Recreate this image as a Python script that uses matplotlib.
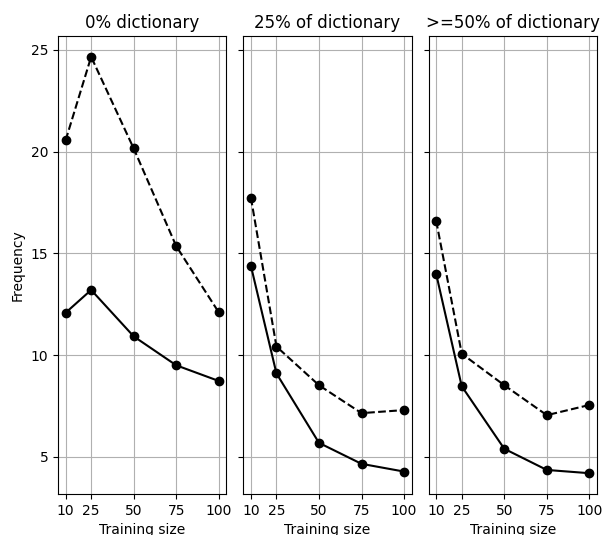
import matplotlib
matplotlib.use("Agg")
import matplotlib.pyplot as plt

train_sizes = [10, 25, 50, 75, 100]
titles = ["0% dictionary", "25% of dictionary", ">=50% of dictionary"]

# dashed series (upper) and solid series (lower), one list per panel
dashed = [
    [20.55, 24.65, 20.15, 15.35, 12.1],
    [17.73, 10.42, 8.52, 7.15, 7.3],
    [16.59, 10.07, 8.52, 7.05, 7.55],
]
solid = [
    [12.08, 13.2, 10.92, 9.5, 8.73],
    [14.38, 9.1, 5.69, 4.66, 4.28],
    [13.98, 8.47, 5.4, 4.36, 4.2],
]

fig, axes = plt.subplots(1, 3, figsize=(6.02, 5.35), dpi=100, sharey=True)
fig.subplots_adjust(left=0.0963, right=0.9917, top=0.9327, bottom=0.0766, wspace=0.1)

for ax, title, d, s in zip(axes, titles, dashed, solid):
    ax.plot(train_sizes, d, "k--o", ms=6)
    ax.plot(train_sizes, s, "k-o", ms=6)
    ax.set_title(title, fontsize=12)
    ax.set_xticks(train_sizes)
    ax.set_xlabel("Training size")
    ax.grid(True)

axes[0].set_ylabel("Frequency")
axes[0].set_yticks([5, 10, 15, 20, 25])

fig.savefig("out.png", dpi=100)
